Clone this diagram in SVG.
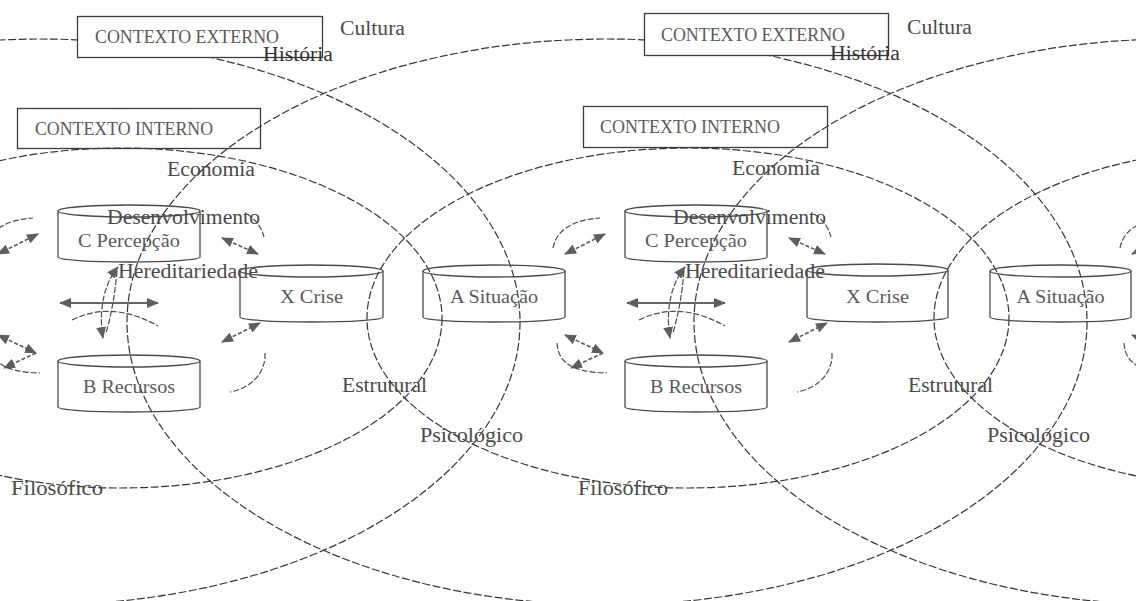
<svg xmlns="http://www.w3.org/2000/svg" width="1136" height="601" viewBox="0 0 1136 601">
<defs>
<marker id="ah" markerUnits="userSpaceOnUse" markerWidth="12" markerHeight="10" refX="11" refY="5" orient="auto-start-reverse"><path d="M0,0 L12,5 L0,10 z" fill="#5e5e5e"/></marker>
</defs>
<style>
.ell{fill:none;stroke:#363636;stroke-width:1.2;stroke-dasharray:8 2.5}
.box{stroke:#3c3c3c;stroke-width:1.3}
.cyl{fill:none;stroke:#4a4a4a;stroke-width:1.3}
.t{font-family:"Liberation Serif","Times New Roman",serif}
.bt{font-size:18px;fill:#5a5a5a}
.ct{font-size:19px;fill:#5a5a5a;text-anchor:middle}
.lb{font-size:20px;fill:#4a4a4a}
.arr{fill:none;stroke:#5a5a5a;stroke-width:1.6;stroke-dasharray:4 2}
.arc{fill:none;stroke:#4a4a4a;stroke-width:1.2;stroke-dasharray:6 2}
.solid{fill:none;stroke:#666;stroke-width:2}
</style>
<rect width="1136" height="601" fill="#fff"/>
<g id="ellipses">
<ellipse class="ell" cx="40" cy="322" rx="480" ry="283"/>
<ellipse class="ell" cx="607" cy="322" rx="480" ry="283"/>
<ellipse class="ell" cx="1174" cy="322" rx="480" ry="283"/>
<ellipse class="ell" cx="121" cy="318" rx="321" ry="170"/>
<ellipse class="ell" cx="688" cy="318" rx="321" ry="170"/>
<ellipse class="ell" cx="1255" cy="318" rx="321" ry="170"/>
</g>
<g id="connectors">
<path class="arc" d="M-14,248 C-11,232 3,220 33,218"/>
<path class="arr" d="M-2,254 L38,234" marker-start="url(#ah)" marker-end="url(#ah)"/>
<path class="arr" d="M-2,335 L36,353" marker-start="url(#ah)" marker-end="url(#ah)"/>
<path class="arr" d="M36,353 L4,368" marker-end="url(#ah)"/>
<path class="arc" d="M-10,343 C-9,360 1,372 40,373"/>
<path class="arr" d="M222,238 L258,254" marker-start="url(#ah)" marker-end="url(#ah)"/>
<path class="arc" d="M247,214 Q260,222 264,237"/>
<path class="solid" d="M60,303 L158,303" marker-start="url(#ah)" marker-end="url(#ah)"/>
<path class="arc" d="M72,320 Q112,300 158,326"/>
<path class="arc" d="M118,267 C102,286 99,315 103,338" marker-start="url(#ah)" marker-end="url(#ah)"/>
<path class="arc" d="M117,271 C115,295 111,316 106,333"/>
<path class="arr" d="M222,342 L260,323" marker-start="url(#ah)" marker-end="url(#ah)"/>
<path class="arc" d="M265,353 C266,372 252,388 230,392"/>
<path class="arc" d="M553,248 C556,232 570,220 600,218"/>
<path class="arr" d="M565,254 L605,234" marker-start="url(#ah)" marker-end="url(#ah)"/>
<path class="arr" d="M565,335 L603,353" marker-start="url(#ah)" marker-end="url(#ah)"/>
<path class="arr" d="M603,353 L571,368" marker-end="url(#ah)"/>
<path class="arc" d="M557,343 C558,360 568,372 607,373"/>
<path class="arr" d="M789,238 L825,254" marker-start="url(#ah)" marker-end="url(#ah)"/>
<path class="arc" d="M814,214 Q827,222 831,237"/>
<path class="solid" d="M627,303 L725,303" marker-start="url(#ah)" marker-end="url(#ah)"/>
<path class="arc" d="M639,320 Q679,300 725,326"/>
<path class="arc" d="M685,267 C669,286 666,315 670,338" marker-start="url(#ah)" marker-end="url(#ah)"/>
<path class="arc" d="M684,271 C682,295 678,316 673,333"/>
<path class="arr" d="M789,342 L827,323" marker-start="url(#ah)" marker-end="url(#ah)"/>
<path class="arc" d="M832,353 C833,372 819,388 797,392"/>
<path class="arc" d="M1120,248 C1123,232 1137,220 1167,218"/>
<path class="arr" d="M1132,254 L1172,234" marker-start="url(#ah)" marker-end="url(#ah)"/>
<path class="arr" d="M1132,335 L1170,353" marker-start="url(#ah)" marker-end="url(#ah)"/>
<path class="arc" d="M1124,343 C1125,360 1135,372 1174,373"/>
</g>
<g id="ext-1"><rect class="box" x="77.5" y="16.5" width="245" height="41" fill="#fff"/><text class="t bt" x="95" y="43" textLength="184" lengthAdjust="spacingAndGlyphs">CONTEXTO EXTERNO</text></g>
<g id="int-1"><rect class="box" x="17.5" y="108.5" width="243" height="40" fill="none"/><text class="t bt" x="35" y="135" textLength="178" lengthAdjust="spacingAndGlyphs">CONTEXTO INTERNO</text></g>
<g id="ext-2"><rect class="box" x="644.5" y="13.5" width="244" height="42" fill="#fff"/><text class="t bt" x="661" y="41" textLength="184" lengthAdjust="spacingAndGlyphs">CONTEXTO EXTERNO</text></g>
<g id="int-2"><rect class="box" x="583.5" y="106.5" width="244" height="41" fill="none"/><text class="t bt" x="600" y="133" textLength="180" lengthAdjust="spacingAndGlyphs">CONTEXTO INTERNO</text></g>
<g id="c-percepcao-1"><ellipse class="cyl" cx="129" cy="211" rx="71" ry="6"/><path class="cyl" d="M58,211 V257 A71 5 0 0 0 200,257 V211"/><text class="t ct" x="129" y="247" textLength="102" lengthAdjust="spacingAndGlyphs">C Percepção</text></g>
<g id="b-recursos-1"><ellipse class="cyl" cx="129" cy="361" rx="71" ry="6"/><path class="cyl" d="M58,361 V407 A71 5 0 0 0 200,407 V361"/><text class="t ct" x="129" y="393" textLength="92" lengthAdjust="spacingAndGlyphs">B Recursos</text></g>
<g id="x-crise-1"><ellipse class="cyl" cx="311.5" cy="271" rx="71.5" ry="6"/><path class="cyl" d="M240,271 V317 A71.5 5 0 0 0 383,317 V271"/><text class="t ct" x="311.5" y="303" textLength="63" lengthAdjust="spacingAndGlyphs">X Crise</text></g>
<g id="a-situacao-1"><ellipse class="cyl" cx="494" cy="271" rx="71" ry="6"/><path class="cyl" d="M423,271 V317 A71 5 0 0 0 565,317 V271"/><text class="t ct" x="494" y="303" textLength="88" lengthAdjust="spacingAndGlyphs">A Situação</text></g>
<g id="c-percepcao-2"><ellipse class="cyl" cx="696" cy="211" rx="71" ry="6"/><path class="cyl" d="M625,211 V257 A71 5 0 0 0 767,257 V211"/><text class="t ct" x="696" y="247" textLength="102" lengthAdjust="spacingAndGlyphs">C Percepção</text></g>
<g id="b-recursos-2"><ellipse class="cyl" cx="696" cy="361" rx="71" ry="6"/><path class="cyl" d="M625,361 V407 A71 5 0 0 0 767,407 V361"/><text class="t ct" x="696" y="393" textLength="92" lengthAdjust="spacingAndGlyphs">B Recursos</text></g>
<g id="x-crise-2"><ellipse class="cyl" cx="877.5" cy="270" rx="70.5" ry="6"/><path class="cyl" d="M807,270 V317 A70.5 5 0 0 0 948,317 V270"/><text class="t ct" x="877.5" y="303" textLength="63" lengthAdjust="spacingAndGlyphs">X Crise</text></g>
<g id="a-situacao-2"><ellipse class="cyl" cx="1060.5" cy="271" rx="70.5" ry="6"/><path class="cyl" d="M990,271 V317 A70.5 5 0 0 0 1131,317 V271"/><text class="t ct" x="1060.5" y="303" textLength="88" lengthAdjust="spacingAndGlyphs">A Situação</text></g>
<g id="labels" class="t lb">
<text x="340" y="35" textLength="65" lengthAdjust="spacingAndGlyphs">Cultura</text>
<text x="263" y="61" textLength="70" lengthAdjust="spacingAndGlyphs" fill="#333">História</text>
<text x="167" y="176" textLength="88" lengthAdjust="spacingAndGlyphs">Economia</text>
<text x="107" y="224" textLength="153" lengthAdjust="spacingAndGlyphs">Desenvolvimento</text>
<text x="118" y="278" textLength="140" lengthAdjust="spacingAndGlyphs">Hereditariedade</text>
<text x="342" y="392" textLength="85" lengthAdjust="spacingAndGlyphs">Estrutural</text>
<text x="420" y="442" textLength="103" lengthAdjust="spacingAndGlyphs">Psicológico</text>
<text x="11" y="495" textLength="92" lengthAdjust="spacingAndGlyphs">Filosófico</text>
<text x="907" y="34" textLength="65" lengthAdjust="spacingAndGlyphs">Cultura</text>
<text x="830" y="60" textLength="70" lengthAdjust="spacingAndGlyphs" fill="#333">História</text>
<text x="732" y="175" textLength="88" lengthAdjust="spacingAndGlyphs">Economia</text>
<text x="673" y="224" textLength="153" lengthAdjust="spacingAndGlyphs">Desenvolvimento</text>
<text x="685" y="278" textLength="140" lengthAdjust="spacingAndGlyphs">Hereditariedade</text>
<text x="908" y="392" textLength="85" lengthAdjust="spacingAndGlyphs">Estrutural</text>
<text x="987" y="442" textLength="103" lengthAdjust="spacingAndGlyphs">Psicológico</text>
<text x="578" y="495" textLength="90" lengthAdjust="spacingAndGlyphs">Filosófico</text>
</g>
</svg>
